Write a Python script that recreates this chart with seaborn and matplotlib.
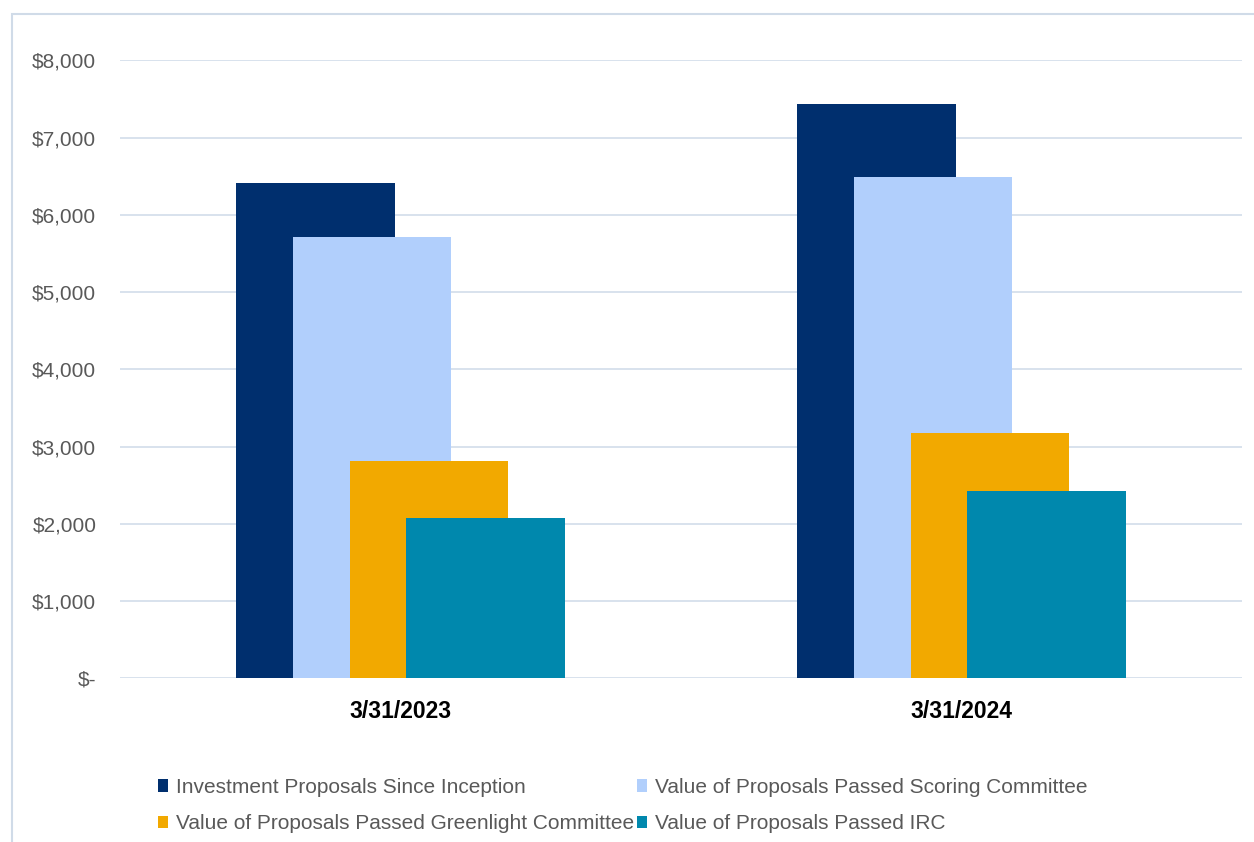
import matplotlib
matplotlib.use("Agg")
import matplotlib.pyplot as plt
import seaborn as sns
import numpy as np
from matplotlib.ticker import FuncFormatter
from matplotlib.patches import Rectangle

# ---- data ----
categories = ["3/31/2023", "3/31/2024"]
series_names = [
    "Investment Proposals Since Inception",
    "Value of Proposals Passed Scoring Committee",
    "Value of Proposals Passed Greenlight Committee",
    "Value of Proposals Passed IRC",
]
investment = [6410, 7430]
scoring = [5710, 6490]
greenlight = [2810, 3180]
irc = [2080, 2430]
y_ticks = [0, 1000, 2000, 3000, 4000, 5000, 6000, 7000, 8000]

colors = ["#002f6e", "#b1cffc", "#f2a900", "#0088ad"]

sns.set_theme(style="white")
plt.rcParams["font.family"] = ["Liberation Sans", "DejaVu Sans"]

fig = plt.figure(figsize=(12.54, 8.42), dpi=100)
ax = fig.add_axes([120 / 1254, 1 - 678.3 / 842, (1242 - 120) / 1254, (678.3 - 60.3) / 842])

bar_w = 0.2827
step = 0.1009
idx = np.arange(len(categories))
all_series = [investment, scoring, greenlight, irc]
for i, (vals, name, col) in enumerate(zip(all_series, series_names, colors)):
    off = (i - 1.5) * step
    sns.barplot(x=idx + off, y=vals, native_scale=True, width=bar_w, color=col,
                saturation=1, label=name, ax=ax, linewidth=0, zorder=2 + i)

ax.set_xlim(-0.5, 1.5)
ax.set_ylim(0, 8000)
ax.set_yticks(y_ticks)
ax.yaxis.set_major_formatter(FuncFormatter(lambda v, p: "$-" if v == 0 else f"${v:,.0f}"))
ax.set_xticks(idx)
ax.set_xticklabels(categories, fontweight="bold", fontsize=16.5, color="black")
ax.tick_params(axis="x", length=0, pad=15.5)
ax.tick_params(axis="y", length=0, pad=17, labelsize=15, labelcolor="#595959")
ax.grid(axis="y", color="#d6dfec", linewidth=1.3)
ax.grid(axis="x", visible=False)
ax.set_axisbelow(True)
for s in ax.spines.values():
    s.set_visible(False)
ax.set_xlabel("")
ax.set_ylabel("")

handles, labels = ax.get_legend_handles_labels()
if ax.get_legend() is not None:
    ax.get_legend().remove()
order = [0, 2, 1, 3]
leg = fig.legend([handles[k] for k in order], [labels[k] for k in order],
                 ncol=2, loc="upper left", bbox_to_anchor=(158 / 1254, 1 - 778 / 842),
                 frameon=False, fontsize=15, handlelength=0.5, handleheight=0.55,
                 handletextpad=0.35, columnspacing=0.15, labelspacing=0.83, borderpad=0,
                 borderaxespad=0)
for t in leg.get_texts():
    t.set_color("#595959")

fig.patches.append(Rectangle((12 / 1254, -0.05), 1.1, 1 - 14 / 842 + 0.05,
                             transform=fig.transFigure, fill=False,
                             edgecolor="#d0dbe8", linewidth=1.5))

fig.savefig("out.png", dpi=100, facecolor="white")
